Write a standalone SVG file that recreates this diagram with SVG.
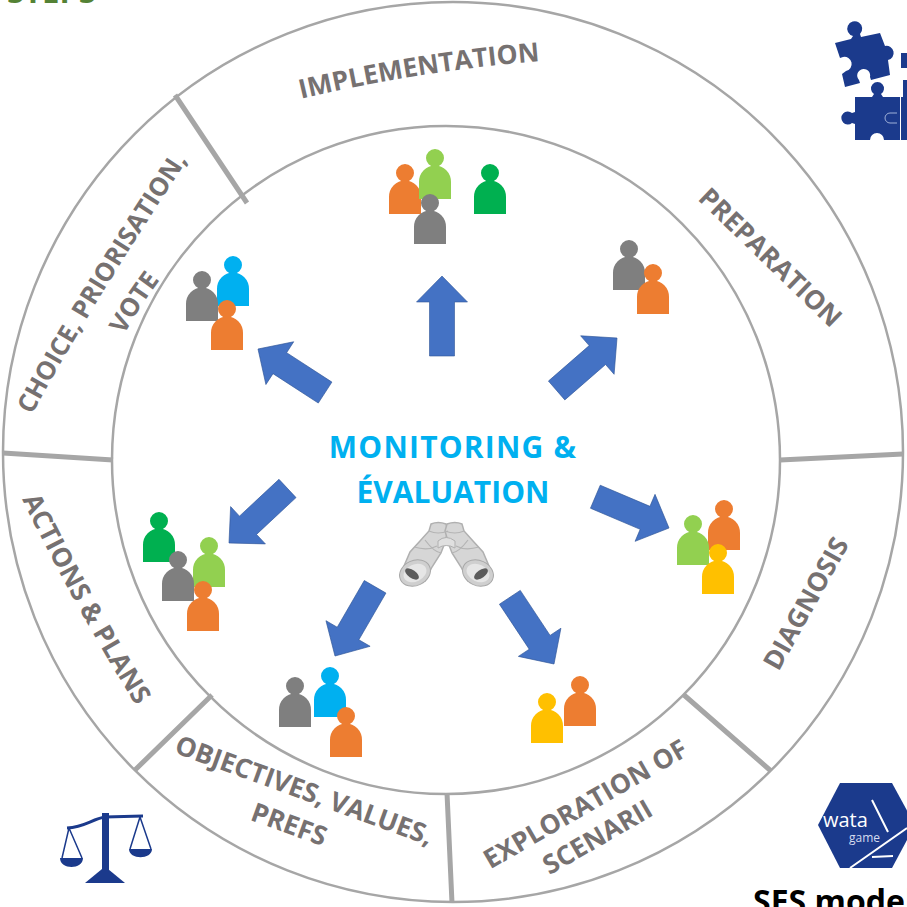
<svg xmlns="http://www.w3.org/2000/svg" width="907" height="907" viewBox="0 0 907 907">
<style>
text{font-family:"Open Sans","Liberation Sans",sans-serif;font-weight:700}
.lab{fill:#767171;font-size:26.500px;text-anchor:middle}
.mon{fill:#00b0f0;font-size:30px;text-anchor:middle}
.ring{fill:#fff;stroke:#a6a6a6;stroke-width:2.500}
.sep{stroke:#a6a6a6;stroke-width:5;fill:none}
.arrow{fill:#4472c4;stroke:#2f5597;stroke-width:.6}
.navy{fill:#1b3a8c}
.ln{fill:none;stroke:#b4b4b4;stroke-width:1.200}
.o{fill:#ed7d31}.g{fill:#7f7f7f}.l{fill:#92d050}.d{fill:#00b050}.b{fill:#00b0f0}.y{fill:#ffc000}
</style>
<defs>
<path id="p" d="M-9 0a9 9 0 1 1 18 0a9 9 0 0 1-18 0zM-16 41V24a16 16.500 0 0 1 32 0V41z"/>
<path id="a" d="M0 0L25.500 26H12.500V80H-12.500V26H-25.500z"/>
<path id="tImpl" d="M300 99Q418 71 541 61"/>
<path id="tChoice" d="M28 422Q89 308 192 153"/>
<path id="tVote" d="M122 338Q140 306 162 277"/>
<path id="tActions" d="M19 493Q72 603 140 712"/>
<path id="barrel" d="M431 524Q438 521 446 524L448 531 444 545 441 553 432 567 425 581 404 566 410 552 420 541 429 531z"/>
</defs>
<rect width="907" height="907" fill="#fff"/>
<text x="7" y="3" fill="#548235" style="font-size:31px">STEPS</text>
<g id="rings">
<circle class="ring" cx="453" cy="452" r="450"/>
<circle class="ring" cx="446" cy="460" r="334"/>
</g>
<g id="connectors">
<path class="sep" d="M175 95L247 203M3 453L113 460M135 770L212 695M447 793L452 903M684 695L771 771M780 460L903 454"/>
<use href="#a" class="arrow" transform="translate(442 276)"/>
<use href="#a" class="arrow" transform="translate(617 338) rotate(49)"/>
<use href="#a" class="arrow" transform="translate(258 349) rotate(-57)"/>
<use href="#a" class="arrow" transform="translate(229 543) rotate(-133)"/>
<use href="#a" class="arrow" transform="translate(669 528) rotate(113)"/>
<use href="#a" class="arrow" transform="translate(335 656) rotate(-149.900)"/>
<use href="#a" class="arrow" transform="translate(554 664) rotate(146.500)"/>
</g>
<g id="stage-implementation"><text class="lab"><textPath href="#tImpl" startOffset="50%">IMPLEMENTATION</textPath></text></g>
<g id="stage-preparation"><text class="lab" transform="translate(764 264) rotate(44)">PREPARATION</text></g>
<g id="stage-diagnosis"><text class="lab" transform="translate(814 608) rotate(-61)">DIAGNOSIS</text></g>
<g id="stage-exploration">
<text class="lab" transform="translate(590 812) rotate(-30)">EXPLORATION OF</text>
<text class="lab" transform="translate(602 845) rotate(-30)">SCENARII</text>
</g>
<g id="stage-objectives">
<text class="lab" transform="translate(301 799) rotate(20)">OBJECTIVES, VALUES,</text>
<text class="lab" transform="translate(286 833) rotate(20)">PREFS</text>
</g>
<g id="stage-actions"><text class="lab"><textPath href="#tActions" startOffset="50%">ACTIONS &amp; PLANS</textPath></text></g>
<g id="stage-choice">
<text class="lab" style="font-size:25.500px"><textPath href="#tChoice" startOffset="50%">CHOICE, PRIORISATION,</textPath></text>
<text class="lab" style="font-size:25.500px"><textPath href="#tVote" startOffset="50%">VOTE</textPath></text>
</g>
<g id="center">
<text class="mon" x="453" y="458" style="letter-spacing:1.200px">MONITORING &amp;</text>
<text class="mon" x="453" y="503">ÉVALUATION</text>
</g>
<g id="binoculars">
<use href="#barrel" fill="#d6d6d6" stroke="#b0b0b0" stroke-width="1.500"/>
<use href="#barrel" fill="#d6d6d6" stroke="#b0b0b0" stroke-width="1.500" transform="translate(893 0) scale(-1 1)"/>
<path class="ln" d="M429 531Q438 535 448 531M414 547Q428 551 437 546M425 540Q434 552 441 553M464 531Q455 535 445 531M479 547Q465 551 456 546M468 540Q459 552 452 553"/>
<path d="M438 541Q446 534 455 541L455 548Q446 543 438 548z" fill="#e0e0e0" stroke="#b0b0b0"/>
<ellipse cx="415" cy="573" rx="16" ry="12.500" transform="rotate(-25 415 573)" fill="#cfcfcf" stroke="#a8a8a8"/>
<ellipse cx="478" cy="573" rx="16" ry="12.500" transform="rotate(25 478 573)" fill="#cfcfcf" stroke="#a8a8a8"/>
<ellipse cx="415" cy="573" rx="12" ry="8.500" transform="rotate(-25 415 573)" fill="#e6e6e6"/>
<ellipse cx="478" cy="573" rx="12" ry="8.500" transform="rotate(25 478 573)" fill="#e6e6e6"/>
<ellipse cx="412" cy="574" rx="8" ry="4" transform="rotate(35 412 574)" fill="#5c5c5c"/>
<ellipse cx="481" cy="574" rx="8" ry="4" transform="rotate(-35 481 574)" fill="#5c5c5c"/>
</g>
<g id="people-implementation">
<use href="#p" class="o" x="405" y="173"/><use href="#p" class="l" x="435" y="158"/><use href="#p" class="d" x="490" y="173"/><use href="#p" class="g" x="430" y="203"/>
</g>
<g id="people-preparation"><use href="#p" class="g" x="629" y="249"/><use href="#p" class="o" x="653" y="273"/></g>
<g id="people-choice"><use href="#p" class="b" x="233" y="265"/><use href="#p" class="g" x="202" y="280"/><use href="#p" class="o" x="227" y="309"/></g>
<g id="people-actions"><use href="#p" class="d" x="159" y="521"/><use href="#p" class="l" x="209" y="546"/><use href="#p" class="g" x="178" y="560"/><use href="#p" class="o" x="203" y="590"/></g>
<g id="people-objectives"><use href="#p" class="g" x="295" y="686"/><use href="#p" class="b" x="330" y="676"/><use href="#p" class="o" x="346" y="716"/></g>
<g id="people-exploration"><use href="#p" class="o" x="580" y="685"/><use href="#p" class="y" x="547" y="702"/></g>
<g id="people-diagnosis"><use href="#p" class="o" x="724" y="509"/><use href="#p" class="l" x="693" y="524"/><use href="#p" class="y" x="718" y="553"/></g>
<g id="puzzle" class="navy">
<path d="M835 43L851 39 853 36A7.500 7.500 0 1 1 860 34L861 37 880 33 885 46A6.500 6.500 0 1 1 888 60L890 75 871 80 870 77A6.500 6.500 0 1 0 859 80L860 83 845 87 842 74 846 71A6.500 6.500 0 0 0 843 57L840 58z"/>
<path d="M855 97H872L874 94A6.500 6.500 0 1 1 881 94L883 97H900V140H884A6.500 6.500 0 1 0 870 140H855V124L852 123A6.500 6.500 0 1 1 852 113L855 112z"/>
<path d="M901 97h6v43h-6zM903 80h4v17h-4zM901 53h6v15h-6z"/>
<path d="M897 113h-7a5 5 0 1 0 0 10h7" fill="none" stroke="#9fb0d8" stroke-width="1"/>
</g>
<g id="watagame-logo">
<path class="navy" d="M840 783H892L915 825 892 868H840L818 825z"/>
<path d="M872 800L888 832M850 868L907 828M872 857L893 856" stroke="#fff" stroke-width="2" fill="none"/>
<text x="823" y="827" fill="#fff" style="font-size:20px;font-weight:400">wata</text>
<text x="849" y="842" fill="#d5dcef" style="font-size:12px;font-weight:400">game</text>
</g>
<g id="scale" class="navy">
<rect x="102" y="813" width="7" height="60"/>
<path d="M85 883H125L108 869H102z"/>
<path d="M67 828C85 827 92 819 105 817L143 816" fill="none" stroke="#1b3a8c" stroke-width="3"/>
<path d="M69 828L62 858M69 828L82 858M140 817L130 849M140 817L151 849" fill="none" stroke="#1b3a8c" stroke-width="1.500"/>
<path d="M60 858H83C83 870 60 870 60 858zM129 849H152C152 860 129 860 129 849z"/>
</g>
<text x="753" y="913" fill="#000" style="font-size:32px">SES model</text>
</svg>
